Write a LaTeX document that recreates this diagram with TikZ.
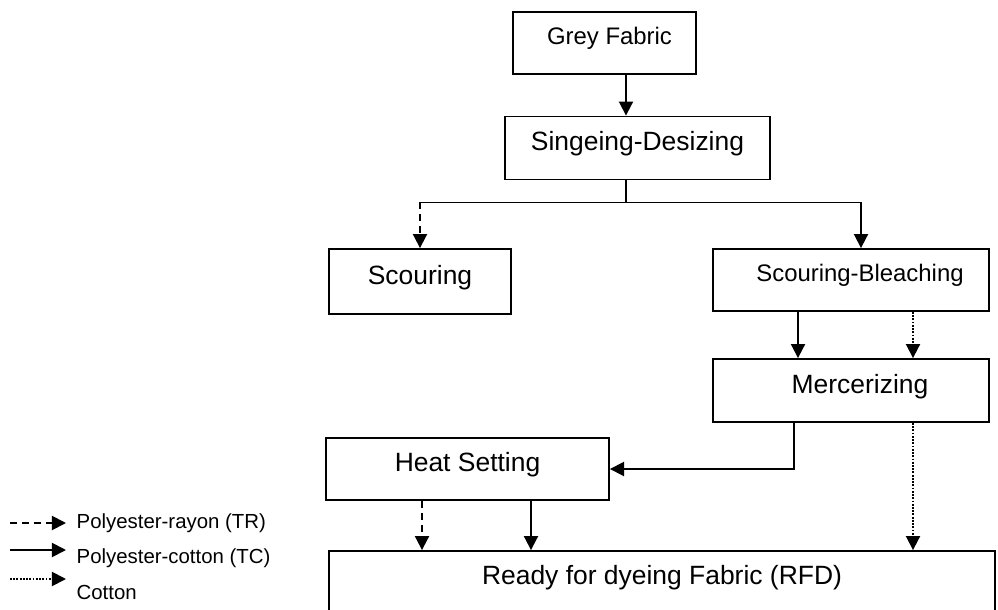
\documentclass[tikz,border=0pt]{standalone}
\usepackage{fontspec}
\setmainfont{Liberation Sans}
\usetikzlibrary{calc, positioning, arrows.meta}

\begin{document}
\begin{tikzpicture}[x=0.025cm, y=-0.025cm,
  paso/.style={rectangle, draw=black, line width=1.3pt, text depth=10pt,
    inner sep=0pt, align=center, font=\fontsize{18.8}{22}\selectfont},
  pasom/.style={paso, font=\fontsize{17}{20}\selectfont},
  ley/.style={anchor=west, inner sep=1pt, font=\fontsize{14.5}{17}\selectfont},
  tc/.style={-{Triangle[length=10pt, width=10pt]}, line width=1.3pt},
  tr/.style={tc, dash pattern=on 5pt off 3.5pt},
  co/.style={tc, densely dotted}
]
\clip (0,0) rectangle (998,610);

%% ── Cajas ─────────────────────────────────────────────────────────────
\node[pasom, minimum width=4.575cm, minimum height=1.55cm] (GF) at (604.5, 43) {\hspace*{0.25cm}Grey Fabric};
\node[paso, minimum width=6.625cm, minimum height=1.575cm] (SD) at (637.5, 148) {Singeing-Desizing};
\node[paso, minimum width=4.55cm, minimum height=1.625cm] (SC) at (420, 281.5) {Scouring};
\node[pasom, minimum width=6.9cm, minimum height=1.55cm] (SB) at (851, 280) {\hspace*{0.45cm}Scouring-Bleaching};
\node[paso, minimum width=6.9cm, minimum height=1.575cm] (ME) at (851, 390.5) {\hspace*{0.45cm}Mercerizing};
\node[paso, minimum width=7.075cm, minimum height=1.55cm] (HS) at (467.5, 469) {Heat Setting};
\node[paso, minimum width=16.65cm, minimum height=1.55cm] (RFD) at (662, 582) {Ready for dyeing Fabric (RFD)};

%% ── Flechas ───────────────────────────────────────────────────────────
\draw[tc] ($(GF.south)+(21.5,0)$) -- ($(SD.north)+(-11.5,0)$);

\coordinate (split) at ($(SD.south)+(-11.5,22)$);
\draw[line width=1.3pt] ($(SD.south)+(-11.5,0)$) -- (split);
\draw[line width=1.3pt] (split -| SC.north) -- (split);
\draw[tr] (split -| SC.north) -- (SC.north);
\draw[tc] (split) -| ($(SB.north)+(10,0)$);

\draw[tc] ($(SB.south)+(-53,0)$) -- ($(ME.north)+(-53,0)$);
\draw[co] ($(SB.south)+(62,0)$) -- ($(ME.north)+(62,0)$);

\draw[tc] ($(ME.south)+(-57,0)$) |- (HS.east);
\draw[co] ($(ME.south)+(62,0)$) -- ($(RFD.north)+(251,0)$);

\draw[tr] ($(HS.south)+(-45.5,0)$) -- ($(RFD.north)+(-240,0)$);
\draw[tc] ($(HS.south)+(63.5,0)$) -- ($(RFD.north)+(-131,0)$);

%% ── Leyenda ───────────────────────────────────────────────────────────
\coordinate (lTR0) at (10, 523);  \coordinate (lTR1) at (66, 523);
\coordinate (lTC0) at (10, 550);  \coordinate (lTC1) at (66, 550);
\coordinate (lCO0) at (10, 579);  \coordinate (lCO1) at (66, 579);
\draw[tr] (lTR0) -- (lTR1);
\draw[tc] (lTC0) -- (lTC1);
\draw[co] (lCO0) -- (lCO1);
\node[ley] (tTR) at (75, 523) {Polyester-rayon (TR)};
\node[ley] (tTC) at (75, 558) {Polyester-cotton (TC)};
\node[ley] (tCO) at (75, 592) {Cotton};

\end{tikzpicture}
\end{document}
